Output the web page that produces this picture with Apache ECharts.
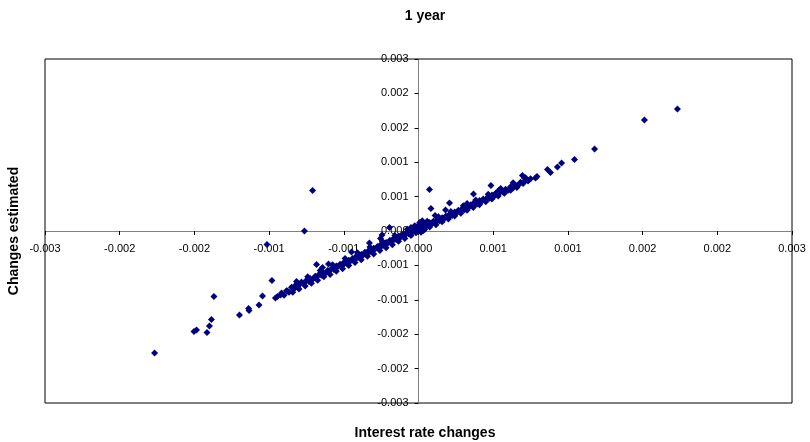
<!DOCTYPE html>
<html>
<head>
<meta charset="utf-8">
<script src="https://cdn.jsdelivr.net/npm/echarts@6/dist/echarts.min.js"></script>
<style>
  html, body { margin: 0; padding: 0; background: #fff; }
  #main { width: 810px; height: 442px; }
</style>
</head>
<body>
<div id="main"></div>
<script>
// [interest rate change, estimated change]
const bandPoints = [
  [-0.00110, -0.00108], [-0.00108, -0.00112], [-0.00106, -0.00104], [-0.00104, -0.00107],
  [-0.00102, -0.00098], [-0.00100, -0.00101], [-0.00099, -0.00095], [-0.00097, -0.00097],
  [-0.00095, -0.00092], [-0.00094, -0.00089], [-0.00092, -0.00091], [-0.00090, -0.00086],
  [-0.00088, -0.00088], [-0.00087, -0.00083], [-0.00085, -0.00084], [-0.00083, -0.00079],
  [-0.00082, -0.00081], [-0.00080, -0.00076], [-0.00078, -0.00077], [-0.00077, -0.00072],
  [-0.00075, -0.00074], [-0.00073, -0.00069], [-0.00072, -0.00071], [-0.00070, -0.00066],
  [-0.00068, -0.00067], [-0.00066, -0.00061], [-0.00065, -0.00063], [-0.00063, -0.00058],
  [-0.00061, -0.00060], [-0.00060, -0.00055], [-0.00058, -0.00056], [-0.00056, -0.00051],
  [-0.00055, -0.00053], [-0.00053, -0.00048], [-0.00051, -0.00050], [-0.00050, -0.00044],
  [-0.00048, -0.00046], [-0.00046, -0.00041], [-0.00045, -0.00043], [-0.00043, -0.00037],
  [-0.00041, -0.00039], [-0.00040, -0.00034], [-0.00038, -0.00036], [-0.00036, -0.00030],
  [-0.00035, -0.00032], [-0.00033, -0.00027], [-0.00031, -0.00029], [-0.00030, -0.00023],
  [-0.00028, -0.00025], [-0.00026, -0.00020], [-0.00025, -0.00022], [-0.00023, -0.00016],
  [-0.00021, -0.00018], [-0.00020, -0.00013], [-0.00018, -0.00015], [-0.00016, -0.00009],
  [-0.00015, -0.00012], [-0.00013, -0.00006], [-0.00011, -0.00008], [-0.00010, -0.00003],
  [-0.00008, -0.00005], [-0.00007, 0.00001], [-0.00005, -0.00002], [-0.00004, 0.00004],
  [-0.00003, 0.00001], [-0.00002, 0.00007], [-0.00001, 0.00003], [0.00000, 0.00009],
  [0.00000, 0.00002], [0.00001, 0.00012], [0.00002, 0.00005], [0.00003, 0.00010],
  [0.00004, 0.00007], [0.00005, 0.00013], [0.00006, 0.00008], [0.00008, 0.00012],
  [0.00009, 0.00015], [0.00011, 0.00013], [0.00012, 0.00017], [0.00014, 0.00015],
  [0.00015, 0.00020], [0.00017, 0.00018], [0.00019, 0.00023], [0.00020, 0.00020],
  [0.00022, 0.00026], [0.00024, 0.00024], [0.00025, 0.00029], [0.00027, 0.00027],
  [0.00029, 0.00033], [0.00030, 0.00030], [0.00032, 0.00036], [0.00034, 0.00034],
  [0.00035, 0.00039], [0.00037, 0.00037], [0.00039, 0.00043], [0.00040, 0.00040],
  [0.00042, 0.00046], [0.00044, 0.00044], [0.00045, 0.00050], [0.00047, 0.00047],
  [0.00049, 0.00053], [0.00050, 0.00050], [0.00052, 0.00056], [0.00054, 0.00054],
  [0.00056, 0.00060], [0.00057, 0.00057], [0.00059, 0.00063], [0.00061, 0.00061],
  [0.00062, 0.00066], [0.00064, 0.00064], [0.00066, 0.00069], [0.00068, 0.00068],
  [0.00070, 0.00073], [0.00072, 0.00071], [0.00074, 0.00077], [0.00076, 0.00075],
  [0.00078, 0.00080], [0.00080, 0.00080], [0.00082, 0.00085], [0.00084, 0.00083],
  [0.00086, 0.00088], [0.00088, 0.00087], [0.00090, 0.00091]
];

const bandLowerEdge = [
  [-0.00101, -0.00107], [-0.00096, -0.00101], [-0.00091, -0.00096], [-0.00086, -0.00091],
  [-0.00081, -0.00086], [-0.00076, -0.00080], [-0.00071, -0.00076], [-0.00066, -0.00070],
  [-0.00061, -0.00066], [-0.00056, -0.00060], [-0.00051, -0.00055], [-0.00046, -0.00050],
  [-0.00041, -0.00044], [-0.00036, -0.00040], [-0.00031, -0.00034], [-0.00026, -0.00029],
  [-0.00021, -0.00024], [-0.00016, -0.00018], [-0.00011, -0.00013], [-0.00006, -0.00008],
  [0.00004, 0.00001], [0.00009, 0.00007], [0.00014, 0.00011], [0.00019, 0.00016],
  [0.00024, 0.00021], [0.00029, 0.00026], [0.00034, 0.00031], [0.00039, 0.00036],
  [0.00044, 0.00041], [0.00049, 0.00046], [0.00054, 0.00051], [0.00059, 0.00056],
  [0.00064, 0.00061], [0.00069, 0.00066], [0.00074, 0.00071], [0.00079, 0.00076]
];

const bandUpperEdge = [
  [-0.00098, -0.00088], [-0.00089, -0.00080], [-0.00079, -0.00069], [-0.00069, -0.00059],
  [-0.00059, -0.00048], [-0.00049, -0.00038], [-0.00039, -0.00028], [-0.00029, -0.00018],
  [-0.00019, -0.00008], [-0.00009, 0.00003], [0.00007, 0.00017], [0.00016, 0.00025],
  [0.00026, 0.00034], [0.00036, 0.00044], [0.00046, 0.00054], [0.00056, 0.00064],
  [0.00066, 0.00074], [0.00076, 0.00084], [0.00086, 0.00093]
];

const centerPoints = [
  [-0.00006, 0.00006], [-0.00003, 0.00009], [0.00001, 0.00015], [0.00003, 0.00018],
  [0.00002, -0.00002], [-0.00002, -0.00003], [0.00005, 0.00003]
];

const upperPoints = [
  [0.002080, 0.002128], [0.001815, 0.001936], [0.001414, 0.001430], [0.001253, 0.001247],
  [0.001149, 0.001186], [0.001116, 0.001116], [0.001060, 0.001020], [0.001036, 0.001073],
  [0.000952, 0.000950], [0.000940, 0.000924], [0.000835, 0.000968], [0.000851, 0.000924],
  [0.000819, 0.000837], [0.000582, 0.000794], [0.000442, 0.000645], [0.000643, 0.000706],
  [0.000088, 0.000724], [0.000100, 0.000392], [0.000133, 0.000270], [0.000217, 0.000366],
  [0.000249, 0.000488], [0.000390, 0.000480]
];

const lowerPoints = [
  [-0.000851, 0.000706], [-0.000916, 0.000000], [-0.001217, -0.000235], [-0.002120, -0.002128],
  [-0.001803, -0.001753], [-0.001783, -0.001727], [-0.001699, -0.001770], [-0.001679, -0.001657],
  [-0.001663, -0.001543], [-0.001643, -0.001142], [-0.001438, -0.001465], [-0.001365, -0.001352],
  [-0.001361, -0.001386], [-0.001281, -0.001291], [-0.001253, -0.001134], [-0.001177, -0.000863],
  [-0.001149, -0.001168], [-0.001133, -0.001142], [-0.001108, -0.001116], [-0.001052, -0.001046],
  [-0.000819, -0.000584], [-0.000771, -0.000637], [-0.000723, -0.000576], [-0.000233, 0.000061],
  [-0.000394, -0.000209], [-0.000305, -0.000131], [-0.000293, -0.000070], [-0.000538, -0.000366]
];

const axisMin = -0.003;
const axisMax = 0.003;
const axisStep = 0.0006;

const fontFamily = '"Liberation Sans", Arial, sans-serif';

// plot box, axes cross in its middle (both ranges are symmetric round 0)
const gridLeft = 45, gridRight = 18, gridTop = 59, gridBottom = 39;
const plotW = 810 - gridLeft - gridRight;
const plotH = 442 - gridTop - gridBottom;

function fmt (v) {
  if (Math.abs(v) < 1e-9) return '0.000';
  return v.toFixed(3);
}

let option = {
  animation: false,
  backgroundColor: '#fff',
  title: [
    {
      text: '1 year',
      left: 420,
      top: 4,
      textAlign: 'center',
      textStyle: { fontFamily: fontFamily, fontSize: 14, fontWeight: 'bold', color: '#000' }
    },
    {
      text: 'Interest rate changes',
      left: 420,
      top: 421,
      textAlign: 'center',
      textStyle: { fontFamily: fontFamily, fontSize: 14, fontWeight: 'bold', color: '#000' }
    }
  ],
  graphic: [
    {
      type: 'text',
      x: 7,
      y: 231,
      rotation: Math.PI / 2,
      style: {
        text: 'Changes estimated',
        font: 'bold 14px ' + fontFamily,
        fill: '#000',
        align: 'center',
        verticalAlign: 'top'
      }
    }
  ],
  grid: {
    left: gridLeft,
    right: gridRight,
    top: gridTop,
    bottom: gridBottom,
    show: true,
    borderColor: '#000',
    borderWidth: 1
  },
  xAxis: {
    type: 'value',
    min: axisMin,
    max: axisMax,
    interval: axisStep,
    position: 'bottom',
    offset: -plotH / 2,
    axisLine: { onZero: false, lineStyle: { color: '#808080', width: 1 } },
    axisTick: { show: true, length: 4, lineStyle: { color: '#000' } },
    splitLine: { show: false },
    axisLabel: {
      formatter: fmt,
      margin: 12,
      fontFamily: fontFamily,
      fontSize: 11,
      color: '#000'
    }
  },
  yAxis: {
    type: 'value',
    min: axisMin,
    max: axisMax,
    interval: axisStep,
    position: 'left',
    offset: -plotW / 2,
    axisLine: { onZero: false, lineStyle: { color: '#808080', width: 1 } },
    axisTick: { show: true, length: 4, lineStyle: { color: '#000' } },
    splitLine: { show: false },
    axisLabel: {
      formatter: fmt,
      margin: 10,
      fontFamily: fontFamily,
      fontSize: 11,
      color: '#000'
    }
  },
  series: [
    {
      type: 'scatter',
      symbol: 'diamond',
      symbolSize: 7,
      itemStyle: { color: '#000080', opacity: 1 },
      data: bandPoints.concat(bandLowerEdge, bandUpperEdge, centerPoints, upperPoints, lowerPoints)
    }
  ]
};

let myChart = echarts.init(document.getElementById('main'));
myChart.setOption(option);
</script>
</body>
</html>
